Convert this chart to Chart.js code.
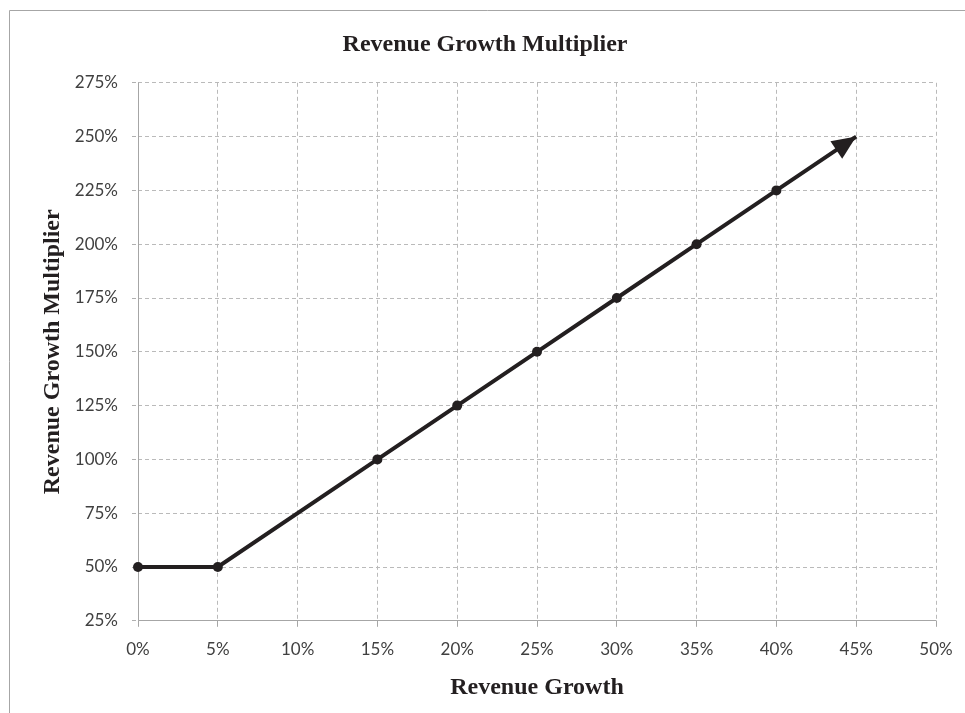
<!DOCTYPE html>
<html>
<head>
<meta charset="utf-8">
<script src="https://cdn.jsdelivr.net/npm/chart.js@4/dist/chart.umd.min.js"></script>
<style>
  html, body { margin: 0; padding: 0; background: #ffffff; }
  #wrap { position: absolute; left: 0; top: 0; width: 965px; height: 713px; }
</style>
</head>
<body>
<div id="wrap"><canvas id="c" width="965" height="713"></canvas></div>
<script>
// ---- data ----
const growth = [0, 5, 15, 20, 25, 30, 35, 40, 45];          // Revenue Growth (%)
const multiplier = [50, 50, 100, 125, 150, 175, 200, 225, 250]; // Revenue Growth Multiplier (%)
const xTickValues = [0, 5, 10, 15, 20, 25, 30, 35, 40, 45, 50];
const yTickValues = [25, 50, 75, 100, 125, 150, 175, 200, 225, 250, 275];

const chartTitle = 'Revenue Growth Multiplier';
const xTitle = 'Revenue Growth';
const yTitle = 'Revenue Growth Multiplier';

const points = growth.map((g, i) => ({ x: g, y: multiplier[i] }));
const lineColor = '#231f20';
const axisColor = '#a6a6a6';
const gridColor = '#bababa';
const serif = '"Liberation Serif", "Times New Roman", serif';
const sans = 'Lato, "Open Sans", sans-serif';

const alignPx = p => Math.round(p - 0.5) + 0.5;

const frame = {
  id: 'frame',
  beforeDraw(chart) {
    const ctx = chart.ctx;
    ctx.save();
    ctx.fillStyle = '#ffffff';
    ctx.fillRect(0, 0, chart.width, chart.height);
    ctx.strokeStyle = axisColor;
    ctx.lineWidth = 1;
    ctx.beginPath();
    ctx.moveTo(9.5, chart.height);
    ctx.lineTo(9.5, 10.5);
    ctx.lineTo(chart.width, 10.5);
    ctx.stroke();
    ctx.restore();
  },
  beforeDatasetsDraw(chart) {
    // solid axis lines along the left and bottom of the plot area
    const xs = chart.scales.x, ys = chart.scales.y, ctx = chart.ctx;
    const l = alignPx(xs.getPixelForValue(xs.min));
    const r = alignPx(xs.getPixelForValue(xs.max));
    const b = alignPx(ys.getPixelForValue(ys.min));
    const t = alignPx(ys.getPixelForValue(ys.max));
    ctx.save();
    ctx.strokeStyle = axisColor;
    ctx.lineWidth = 1;
    ctx.setLineDash([]);
    ctx.beginPath();
    ctx.moveTo(l, t);
    ctx.lineTo(l, b);
    ctx.lineTo(r, b);
    ctx.stroke();
    ctx.restore();
  }
};

const arrowHead = {
  id: 'arrowHead',
  afterDatasetsDraw(chart) {
    const meta = chart.getDatasetMeta(0);
    const n = meta.data.length;
    const tip = meta.data[n - 1], prev = meta.data[n - 2];
    const ang = Math.atan2(tip.y - prev.y, tip.x - prev.x);
    const len = 24, half = 10.5;
    const ctx = chart.ctx;
    ctx.save();
    ctx.translate(tip.x, tip.y);
    ctx.rotate(ang);
    ctx.fillStyle = lineColor;
    ctx.beginPath();
    ctx.moveTo(0, 0);
    ctx.lineTo(-len, -half);
    ctx.lineTo(-len, half);
    ctx.closePath();
    ctx.fill();
    ctx.restore();
  }
};

new Chart(document.getElementById('c'), {
  type: 'scatter',
  data: {
    datasets: [{
      data: points,
      showLine: true,
      clip: false,
      borderColor: lineColor,
      backgroundColor: lineColor,
      borderWidth: 4,
      pointRadius: points.map((p, i) => i === points.length - 1 ? 0 : 5),
      pointHoverRadius: 0,
      pointBorderWidth: 0,
      tension: 0
    }]
  },
  options: {
    responsive: false,
    animation: false,
    devicePixelRatio: 1,
    layout: { padding: { left: 20, right: 15, top: 0, bottom: 11 } },
    plugins: {
      legend: { display: false },
      tooltip: { enabled: false },
      title: {
        display: true,
        text: chartTitle,
        color: lineColor,
        font: { family: serif, size: 24, weight: 'bold' },
        padding: { top: 30, bottom: 24 }
      }
    },
    scales: {
      x: {
        type: 'linear',
        min: 0, max: 50,
        afterBuildTicks(scale) { scale.ticks = xTickValues.map(v => ({ value: v })); },
        afterFit(scale) { scale.paddingRight = 29; },
        ticks: {
          callback: v => v + '%',
          color: '#404040',
          font: { family: sans, size: 17 },
          padding: 13,
          maxRotation: 0
        },
        grid: {
          color: gridColor,
          tickColor: axisColor,
          tickBorderDash: [],
          tickLength: 6,
          drawTicks: true
        },
        border: { display: false, dash: [4, 3] },
        title: {
          display: true,
          text: xTitle,
          color: lineColor,
          font: { family: serif, size: 24, weight: 'bold' },
          padding: { top: 0, bottom: 0 }
        }
      },
      y: {
        type: 'linear',
        min: 25, max: 275,
        afterBuildTicks(scale) { scale.ticks = yTickValues.map(v => ({ value: v })); },
        afterFit(scale) { scale.width = 118; },
        ticks: {
          callback: v => v + '%',
          color: '#404040',
          font: { family: sans, size: 17 },
          padding: 14
        },
        grid: {
          color: gridColor,
          tickColor: '#b0b0b0',
          tickBorderDash: [4, 3],
          tickLength: 6
        },
        border: { display: false, dash: [4, 3] },
        title: {
          display: true,
          text: yTitle,
          color: lineColor,
          font: { family: serif, size: 24, weight: 'bold' },
          padding: { top: 18, bottom: 8 }
        }
      }
    }
  },
  plugins: [frame, arrowHead]
});
</script>
</body>
</html>
